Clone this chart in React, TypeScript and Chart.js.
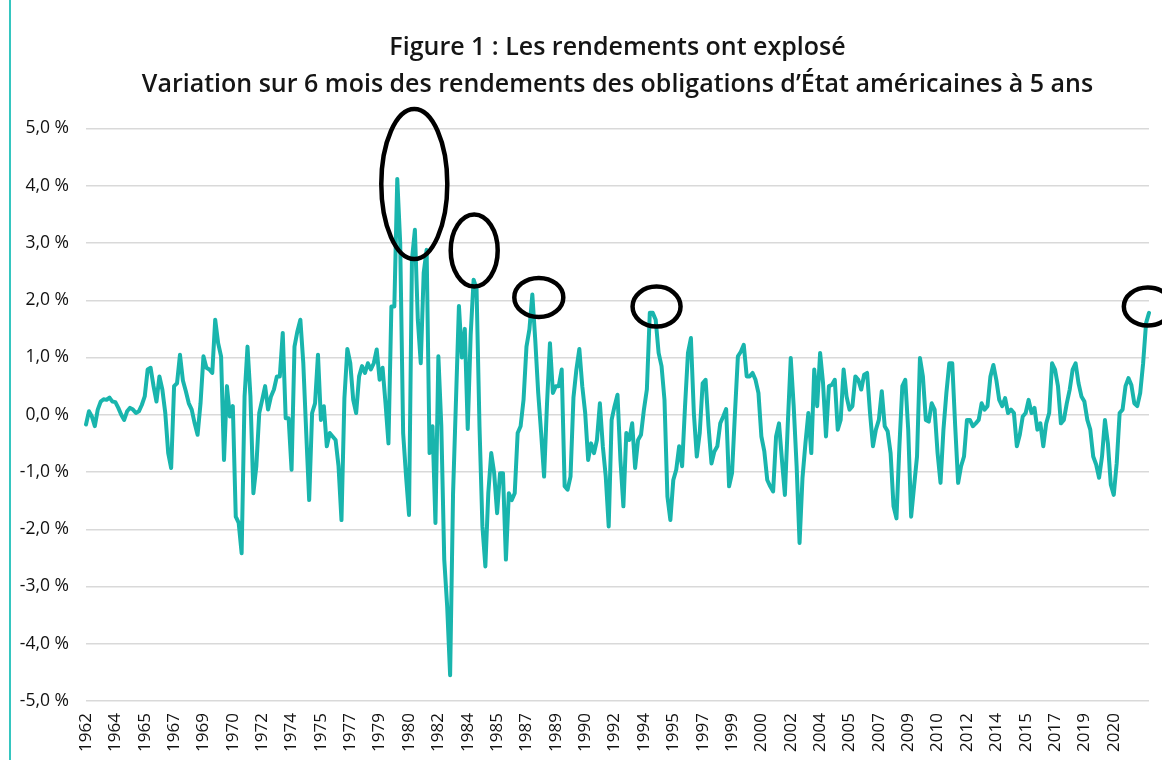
import React, { useEffect, useRef } from 'react';
import { Chart, registerables } from 'chart.js';

Chart.register(...registerables);

// Tick labels shown on the category axis (one every 10 bi-monthly points)
const TICK_YEARS = [
  '1962', '1964', '1965', '1967', '1969', '1970', '1972', '1974', '1975', '1977',
  '1979', '1980', '1982', '1984', '1985', '1987', '1989', '1990', '1992', '1994',
  '1995', '1997', '1999', '2000', '2002', '2004', '2005', '2007', '2009', '2010',
  '2012', '2014', '2015', '2017', '2019', '2020',
];

// 6-month change of 5-year US Treasury yields (percentage points)
const CHANGE_1962_1971 = [
  -0.17, 0.06, -0.03, -0.2, 0.09, 0.23, 0.27, 0.26, 0.3, 0.23,
  0.22, 0.12, 0.0, -0.09, 0.06, 0.12, 0.09, 0.03, 0.06, 0.17,
  0.32, 0.79, 0.82, 0.5, 0.23, 0.67, 0.44, 0.03, -0.67, -0.93,
  0.5, 0.55, 1.05, 0.6, 0.41, 0.2, 0.09, -0.15, -0.35, 0.2,
  1.02, 0.82, 0.79, 0.73, 1.66, 1.25, 1.02, -0.79, 0.5, -0.03,
  0.15, -1.78, -1.89, -2.42, 0.32, 1.19, 0.32, -1.37, -0.9, 0.03,
];
const CHANGE_1972_1981 = [
  0.26, 0.5, 0.09, 0.32, 0.44, 0.67, 0.67, 1.43, -0.06, -0.06,
  -0.96, 1.19, 1.46, 1.66, 0.9, -0.32, -1.49, 0.03, 0.2, 1.05,
  -0.09, 0.15, -0.55, -0.32, -0.38, -0.44, -0.9, -1.84, 0.29, 1.15,
  0.9, 0.26, 0.03, 0.67, 0.85, 0.73, 0.9, 0.79, 0.9, 1.14,
  0.61, 0.82, 0.2, -0.5, 1.89, 1.89, 4.12, 3.0, -0.32, -1.08,
  -1.75, 2.71, 3.23, 1.66, 0.9, 2.48, 2.88, -0.67, -0.2, -1.89,
];
const CHANGE_1982_1991 = [
  1.02, -0.2, -2.53, -3.35, -4.55, -1.37, 0.26, 1.9, 1.0, 1.5,
  -0.25, 1.4, 2.36, 2.2, -0.2, -1.95, -2.65, -1.37, -0.67, -1.02,
  -1.72, -1.02, -1.02, -2.53, -1.37, -1.49, -1.37, -0.32, -0.2, 0.26,
  1.19, 1.49, 2.1, 1.3, 0.38, -0.32, -1.08, 0.2, 1.25, 0.38,
  0.5, 0.5, 0.79, -1.25, -1.31, -1.08, 0.3, 0.79, 1.15, 0.5,
  0.03, -0.79, -0.5, -0.67, -0.44, 0.2, -0.55, -1.08, -1.95, -0.09,
];
const CHANGE_1992_2001 = [
  0.15, 0.35, -0.79, -1.6, -0.32, -0.44, -0.15, -0.93, -0.44, -0.35,
  0.09, 0.44, 1.78, 1.78, 1.66, 1.08, 0.85, 0.26, -1.43, -1.84,
  -1.14, -0.96, -0.55, -0.9, 0.15, 1.08, 1.34, 0.03, -0.73, -0.32,
  0.55, 0.61, -0.2, -0.85, -0.64, -0.55, -0.15, -0.03, 0.1, -1.25,
  -1.02, 0.03, 1.02, 1.1, 1.22, 0.67, 0.67, 0.73, 0.61, 0.38,
  -0.38, -0.64, -1.14, -1.25, -1.34, -0.38, -0.15, -0.79, -1.4, -0.15,
];
const CHANGE_2002_2011 = [
  0.99, 0.15, -0.9, -2.24, -1.1, -0.5, 0.03, -0.67, 0.79, 0.15,
  1.08, 0.55, -0.38, 0.5, 0.52, 0.61, -0.26, -0.09, 0.79, 0.32,
  0.09, 0.15, 0.67, 0.61, 0.44, 0.7, 0.73, 0.03, -0.55, -0.26,
  -0.09, 0.41, -0.2, -0.29, -0.67, -1.6, -1.81, -0.55, 0.5, 0.61,
  -0.26, -1.78, -1.25, -0.73, 0.99, 0.67, -0.09, -0.12, 0.2, 0.09,
  -0.67, -1.19, -0.26, 0.38, 0.9, 0.9, -0.2, -1.19, -0.9, -0.73,
];
const CHANGE_2012_2022 = [
  -0.09, -0.09, -0.2, -0.15, -0.09, 0.2, 0.09, 0.15, 0.67, 0.87,
  0.61, 0.26, 0.15, 0.29, 0.03, 0.09, 0.03, -0.55, -0.35, -0.03,
  0.03, 0.26, 0.03, 0.12, -0.26, -0.15, -0.55, -0.15, 0.03, 0.9,
  0.79, 0.5, -0.15, -0.09, 0.2, 0.44, 0.79, 0.9, 0.55, 0.32,
  0.23, -0.09, -0.26, -0.73, -0.87, -1.1, -0.73, -0.09, -0.5, -1.22,
  -1.4, -0.85, 0.03, 0.09, 0.5, 0.64, 0.52, 0.2, 0.15, 0.38,
  0.9, 1.6, 1.78,
];

const SERIES = [
  ...CHANGE_1962_1971,
  ...CHANGE_1972_1981,
  ...CHANGE_1982_1991,
  ...CHANGE_1992_2001,
  ...CHANGE_2002_2011,
  ...CHANGE_2012_2022,
];

const TICK_EVERY = 10;
const CATEGORIES = SERIES.map((_, i) =>
  i % TICK_EVERY === 0 ? TICK_YEARS[i / TICK_EVERY] ?? '' : ''
);

const TITLE_LINES = [
  'Figure 1 : Les rendements ont explosé',
  'Variation sur 6 mois des rendements des obligations d’État américaines à 5 ans',
];

// Circled peaks: anchored on the data (index along the axis, value in %)
const HIGHLIGHTS = [
  { at: 111.8, value: 4.03, rx: 33, ry: 75 },
  { at: 132.2, value: 2.87, rx: 23.5, ry: 36 },
  { at: 154.2, value: 2.05, rx: 24.5, ry: 19.5 },
  { at: 194.3, value: 1.89, rx: 24, ry: 20 },
  { at: 361.6, value: 1.89, rx: 24, ry: 19 },
];

const LINE_COLOR = '#19b5ad';
const FONT = "'Open Sans', 'DejaVu Sans', sans-serif";

const highlightPlugin = {
  id: 'highlights',
  afterDatasetsDraw(chart: any) {
    const { ctx, scales } = chart;
    ctx.save();
    ctx.strokeStyle = '#000';
    ctx.lineWidth = 4.5;
    for (const h of HIGHLIGHTS) {
      const cx = scales.x.getPixelForValue(h.at);
      const cy = scales.y.getPixelForValue(h.value);
      ctx.beginPath();
      ctx.ellipse(cx, cy, h.rx, h.ry, 0, 0, Math.PI * 2);
      ctx.stroke();
    }
    ctx.restore();
  },
};

function YieldChart() {
  const ref = useRef<HTMLCanvasElement | null>(null);
  useEffect(() => {
    if (!ref.current) return;
    const chart = new Chart(ref.current, {
      type: 'line',
      data: {
        labels: CATEGORIES,
        datasets: [
          {
            data: SERIES,
            borderColor: LINE_COLOR,
            borderWidth: 4,
            pointRadius: 0,
            tension: 0,
            borderJoinStyle: 'round',
            borderCapStyle: 'round',
            fill: false,
          },
        ],
      },
      options: {
        animation: false,
        responsive: false,
        devicePixelRatio: 1,
        layout: { padding: { left: 0, right: 13, top: 0, bottom: 0 } },
        plugins: {
          legend: { display: false },
          tooltip: { enabled: false },
          title: {
            display: true,
            text: TITLE_LINES,
            fullSize: false,
            color: '#151515',
            font: { family: FONT, size: 25, weight: '600', lineHeight: 1.45 },
            padding: { top: 30, bottom: 26 },
          },
        },
        scales: {
          x: {
            type: 'category',
            grid: { display: false, drawTicks: false },
            border: { display: false },
            ticks: {
              autoSkip: false,
              maxRotation: 90,
              minRotation: 90,
              padding: 12,
              color: '#111',
              font: { family: FONT, size: 17 },
            },
            afterFit: (s: any) => {
              s.height = 59;
              s.paddingLeft = 0;
              s.paddingRight = 0;
            },
          },
          y: {
            min: -5,
            max: 5,
            grid: { color: '#d9d9d9', lineWidth: 1.5, drawTicks: false },
            border: { display: false },
            ticks: {
              stepSize: 1,
              padding: 17,
              color: '#111',
              font: { family: FONT, size: 17.5 },
              callback: (v: any) => `${Number(v).toFixed(1).replace('.', ',')} %`,
            },
            afterFit: (s: any) => {
              s.width = 86;
            },
          },
        },
      },
      plugins: [highlightPlugin],
    } as any);
    return () => chart.destroy();
  }, []);
  return <canvas ref={ref} width={1162} height={760} style={{ display: 'block' }} />;
}

export default function App() {
  return (
    <div
      style={{
        position: 'absolute',
        left: 0,
        top: 0,
        width: 1162,
        height: 760,
        background: '#fff',
        overflow: 'hidden',
      }}
    >
      <YieldChart />
      <div
        style={{
          position: 'absolute',
          left: 9,
          top: 0,
          width: 2,
          height: 760,
          background: '#35c6c0',
        }}
      />
    </div>
  );
}
